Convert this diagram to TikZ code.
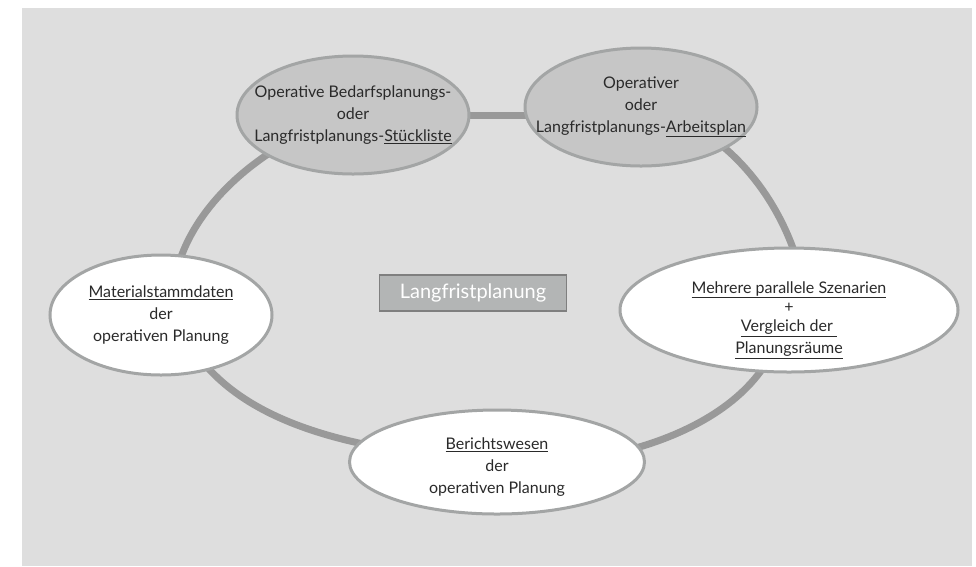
\documentclass[tikz,border=0pt]{standalone}
\usepackage{fontspec}
\setmainfont{Lato}
\usetikzlibrary{shapes.geometric}
\pgfdeclarelayer{back}
\pgfdeclarelayer{ringlayer}
\pgfsetlayers{back,ringlayer,main}
\definecolor{bggray}{HTML}{DEDEDE}
\definecolor{topfill}{HTML}{C6C6C6}
\definecolor{ellborder}{HTML}{A3A5A5}
\definecolor{ringgray}{HTML}{999999}
\definecolor{boxfill}{HTML}{B3B5B5}
\definecolor{boxborder}{HTML}{7F7F7F}
\definecolor{txt}{HTML}{2A2A2A}
\tikzset{
  x=1pt, y=-1pt,
  cyc/.style={ellipse, draw=ellborder, line width=3pt, text=txt, align=center,
     inner xsep=-60pt, inner ysep=-25pt, font=\fontsize{16}{22}\selectfont},
  cyctop/.style={cyc, fill=topfill},
  cycwhite/.style={cyc, fill=white},
  ring/.style={draw=ringgray, line width=7pt},
  centerbox/.style={draw=boxborder, line width=1.2pt, fill=boxfill, text=white,
     minimum width=187pt, minimum height=36pt, inner sep=0pt,
     font=\fontsize{20}{22}\selectfont}
}
\begin{document}
\begin{tikzpicture}
\useasboundingbox (0,0) rectangle (976,566);
\begin{pgfonlayer}{back}
  \fill[bggray] (22,8) rectangle (972,566);
\end{pgfonlayer}

\node[cyctop, minimum width=232pt, minimum height=118pt] (stk) at (353,115)
  {Operative Bedarfsplanungs-\\oder\\Langfristplanungs-\underline{Stückliste}};
\node[cyctop, minimum width=232pt, minimum height=118pt] (arb) at (641,107)
  {Operativer\\oder\\Langfristplanungs-\underline{Arbeitsplan}};
\node[cycwhite, minimum width=222pt, minimum height=120pt] (mat) at (161,315)
  {\underline{Materialstammdaten}\\der\\operativen Planung};
\node[cycwhite, minimum width=338pt, minimum height=124pt] (meh) at (789,310)
  {\\[10pt]\underline{Mehrere parallele Szenarien}\\[-3pt]+\\[-3pt]\underline{Vergleich der\ }\\\underline{Planungsräume}};
\node[cycwhite, minimum width=295pt, minimum height=104pt] (ber) at (497,462)
  {\rule{0pt}{22pt}\underline{Berichtswesen}\\der\\operativen Planung};
\node[centerbox] (lfp) at (473,293) {Langfristplanung};

\begin{pgfonlayer}{ringlayer}
  \draw[ring] (stk.center) -- (stk.center -| arb.center);
  \draw[ring] (arb.center) to[out=-10,in=95,looseness=0.9] ([xshift=18pt]meh.center);
  \draw[ring] ([xshift=-5pt]meh.center) to[out=-95,in=-5,looseness=0.9] (ber.center);
  \draw[ring] (ber.center) to[out=175,in=-70,looseness=0.9] ([xshift=15pt]mat.center);
  \draw[ring] ([xshift=12pt]mat.center) to[out=95,in=195,looseness=0.9] (stk.center);
\end{pgfonlayer}
\end{tikzpicture}
\end{document}
